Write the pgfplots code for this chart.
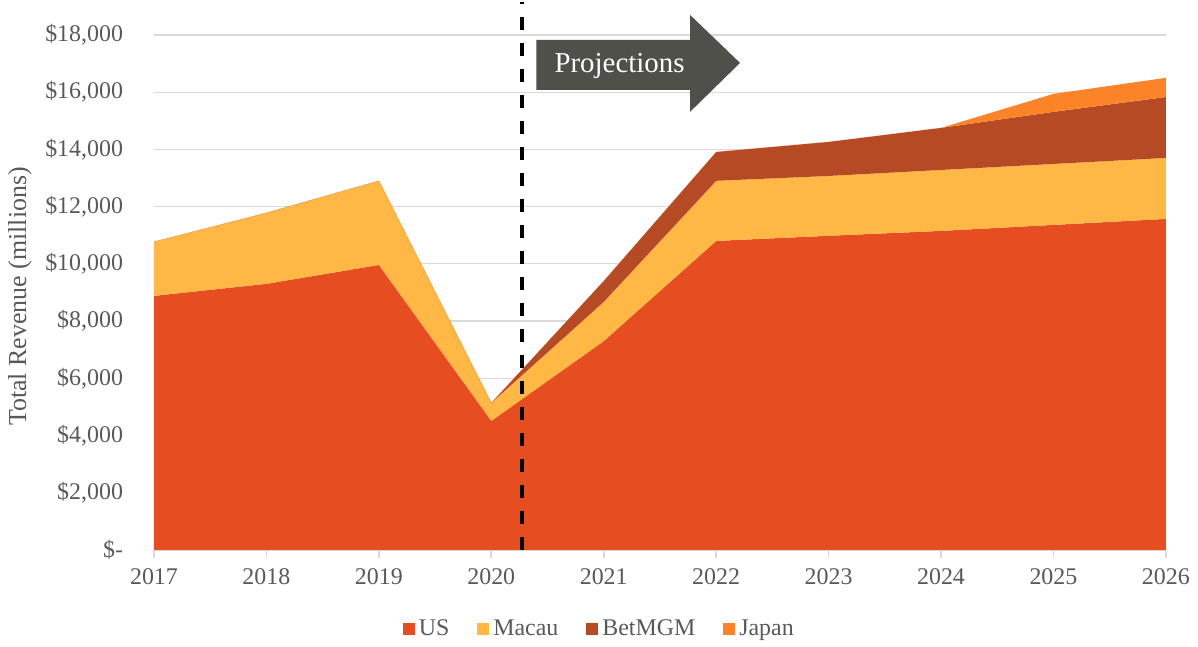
\documentclass[border=0pt]{standalone}
\usepackage{pgfplots}
\pgfplotsset{compat=1.18}
\usepackage{fontspec}
\setmainfont{Liberation Serif}
\definecolor{cUS}{HTML}{E64E22}
\definecolor{cMacau}{HTML}{FFB845}
\definecolor{cBet}{HTML}{B64A25}
\definecolor{cJapan}{HTML}{FB8428}
\definecolor{txt}{HTML}{595959}
\definecolor{gridc}{HTML}{D9D9D9}
\definecolor{arrowc}{HTML}{50504A}
\begin{document}
\begin{tikzpicture}
\begin{axis}[
  at={(0,0)}, anchor=south west,
  scale only axis, width=506bp, height=257.5bp,
  xmin=2017, xmax=2026, ymin=0, ymax=18000,
  stack plots=y, area style, axis on top=false, reverse stacked plots=false,
  clip=false,
  xtick={2017,...,2026},
  xticklabel style={/pgf/number format/1000 sep={}, font=\fontsize{12}{14}\selectfont, text=txt, yshift=-2bp},
  /pgf/number format/assume math mode=true,
  ytick={0,2000,...,18000},
  scaled y ticks=false,
  yticklabels={\$-,{\$2,000},{\$4,000},{\$6,000},{\$8,000},{\$10,000},{\$12,000},{\$14,000},{\$16,000},{\$18,000}},
  yticklabel style={font=\fontsize{12}{14}\selectfont, text=txt, xshift=-8bp},
  ymajorgrids, grid style={gridc, line width=0.6pt},
  axis x line*=bottom, axis y line*=left,
  y axis line style={draw=none},
  x axis line style={gridc, line width=0.8pt, -},
  xtick style={gridc, line width=0.8pt},
  tick align=outside, major tick length=4bp,
  ytick style={draw=none},
  ylabel={Total Revenue (millions)},
  ylabel style={font=\fontsize{13}{15}\selectfont, text=txt, xshift=-2bp},
  legend style={at={(0.441,-0.153)}, anchor=center, draw=none, fill=none,
    font=\fontsize{12}{14}\selectfont, text=txt, legend columns=4,
    /tikz/every even column/.append style={column sep=12bp}},
  legend image code/.code={\fill[#1, draw=none] (0bp,-3.2bp) rectangle (6bp,2.8bp);},
]
\addplot[fill=cUS, draw=none] coordinates {(2017,8880) (2018,9300) (2019,9960) (2020,4510) (2021,7300) (2022,10800) (2023,10980) (2024,11150) (2025,11360) (2026,11570)} \closedcycle;
\addplot[fill=cMacau, draw=none] coordinates {(2017,1890) (2018,2480) (2019,2940) (2020,630) (2021,1370) (2022,2100) (2023,2090) (2024,2130) (2025,2130) (2026,2130)} \closedcycle;
\addplot[fill=cBet, draw=none] coordinates {(2017,0) (2018,0) (2019,0) (2020,0) (2021,730) (2022,1010) (2023,1190) (2024,1470) (2025,1820) (2026,2130)} \closedcycle;
\addplot[fill=cJapan, draw=none] coordinates {(2017,0) (2018,0) (2019,0) (2020,0) (2021,0) (2022,0) (2023,0) (2024,0) (2025,630) (2026,670)} \closedcycle;
\legend{US, Macau, BetMGM, Japan}
\draw[black, line width=2bp, dash pattern=on 6.5bp off 6.5bp] (axis cs:2020.27,0) -- (axis cs:2020.27,19150);
\fill[arrowc] (axis cs:2020.40,16080) -- (axis cs:2021.767,16080) -- (axis cs:2021.767,15310) -- (axis cs:2022.212,17020) -- (axis cs:2021.767,18700) -- (axis cs:2021.767,17826) -- (axis cs:2020.40,17826) -- cycle;
\node[text=white, font=\fontsize{14.5}{16}\selectfont] at (axis cs:2021.14,16900) {Projections};
\end{axis}
\path (-77bp,-46.5bp) rectangle (522bp,274bp);
\end{tikzpicture}
\end{document}
